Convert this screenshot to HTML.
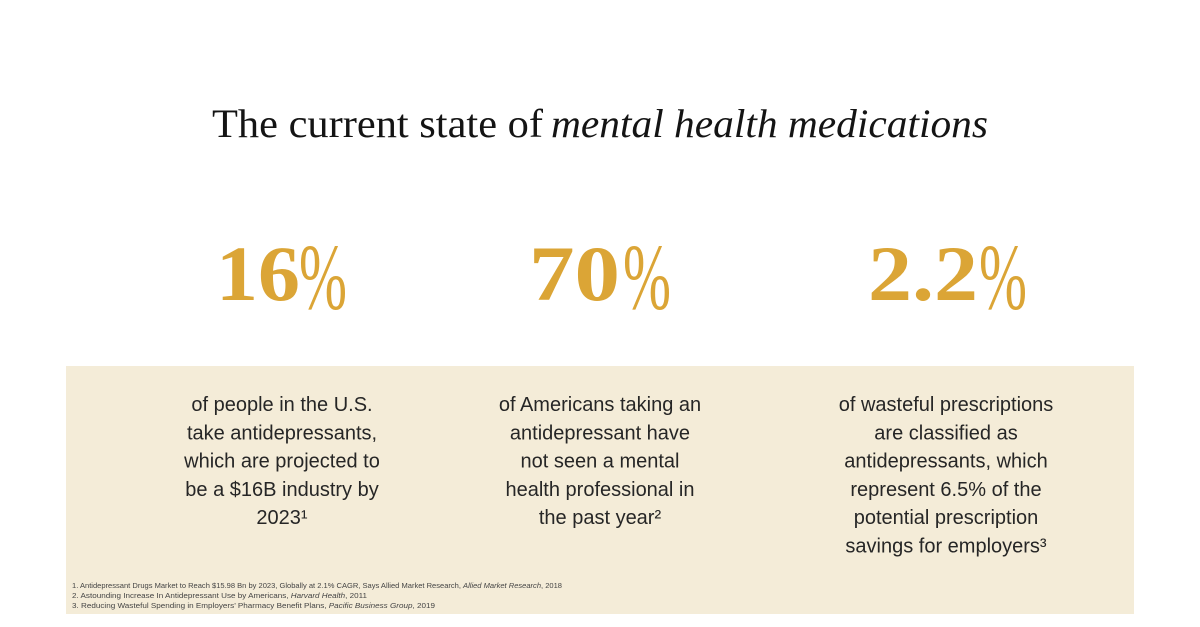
<!DOCTYPE html>
<html>
<head>
<meta charset="utf-8">
<style>
  html,body{margin:0;padding:0;background:#ffffff;}
  body{width:1200px;height:627px;overflow:hidden;position:relative;}
  svg{position:absolute;left:0;top:0;}
</style>
</head>
<body>
<svg width="1200" height="627" viewBox="0 0 1200 627" xmlns="http://www.w3.org/2000/svg">
  <rect x="0" y="0" width="1200" height="627" fill="#ffffff"/>
  <rect x="66" y="366" width="1068" height="248" fill="#F4ECD8"/>

  <!-- Title -->
  <text x="212" y="137" font-family="Liberation Serif, serif" font-size="40" fill="#141414" textLength="331" lengthAdjust="spacingAndGlyphs">The current state of</text>
  <text x="551" y="137" font-family="Liberation Serif, serif" font-size="40" font-style="italic" fill="#141414" textLength="437" lengthAdjust="spacingAndGlyphs">mental health medications</text>

  <!-- Big numbers -->
  <g font-family="Liberation Serif, serif" font-weight="bold" font-size="78" fill="#DBA536">
    <text x="216" y="300" textLength="84" lengthAdjust="spacingAndGlyphs">16</text>
    <text x="299" y="309" font-weight="normal" font-size="94" textLength="48" lengthAdjust="spacingAndGlyphs">%</text>

    <text x="529" y="300" textLength="91" lengthAdjust="spacingAndGlyphs">70</text>
    <text x="623" y="309" font-weight="normal" font-size="94" textLength="48" lengthAdjust="spacingAndGlyphs">%</text>

    <text x="868" y="300" textLength="110" lengthAdjust="spacingAndGlyphs">2.2</text>
    <text x="979" y="309" font-weight="normal" font-size="94" textLength="48" lengthAdjust="spacingAndGlyphs">%</text>
  </g>

  <!-- Body text -->
  <g font-family="Liberation Sans, sans-serif" font-size="20" fill="#262626" text-anchor="middle">
    <text x="282" y="411">of people in the U.S.</text>
    <text x="282" y="439.3">take antidepressants,</text>
    <text x="282" y="467.6">which are projected to</text>
    <text x="282" y="495.9">be a $16B industry by</text>
    <text x="282" y="524.2">2023¹</text>

    <text x="600" y="411">of Americans taking an</text>
    <text x="600" y="439.3">antidepressant have</text>
    <text x="600" y="467.6">not seen a mental</text>
    <text x="600" y="495.9">health professional in</text>
    <text x="600" y="524.2">the past year²</text>

    <text x="946" y="411">of wasteful prescriptions</text>
    <text x="946" y="439.3">are classified as</text>
    <text x="946" y="467.6">antidepressants, which</text>
    <text x="946" y="495.9">represent 6.5% of the</text>
    <text x="946" y="524.2">potential prescription</text>
    <text x="946" y="552.5">savings for employers³</text>
  </g>

  <!-- Footnotes -->
  <g font-family="Liberation Sans, sans-serif" font-size="7.5" fill="#444444">
    <text x="72" y="588" textLength="490" lengthAdjust="spacingAndGlyphs">1. Antidepressant Drugs Market to Reach $15.98 Bn by 2023, Globally at 2.1% CAGR, Says Allied Market Research, <tspan font-style="italic">Allied Market Research</tspan>, 2018</text>
    <text x="72" y="598" textLength="295" lengthAdjust="spacingAndGlyphs">2. Astounding Increase In Antidepressant Use by Americans, <tspan font-style="italic">Harvard Health</tspan>, 2011</text>
    <text x="72" y="608" textLength="363" lengthAdjust="spacingAndGlyphs">3. Reducing Wasteful Spending in Employers’ Pharmacy Benefit  Plans, <tspan font-style="italic">Pacific Business Group</tspan>, 2019</text>
  </g>
</svg>
</body>
</html>
